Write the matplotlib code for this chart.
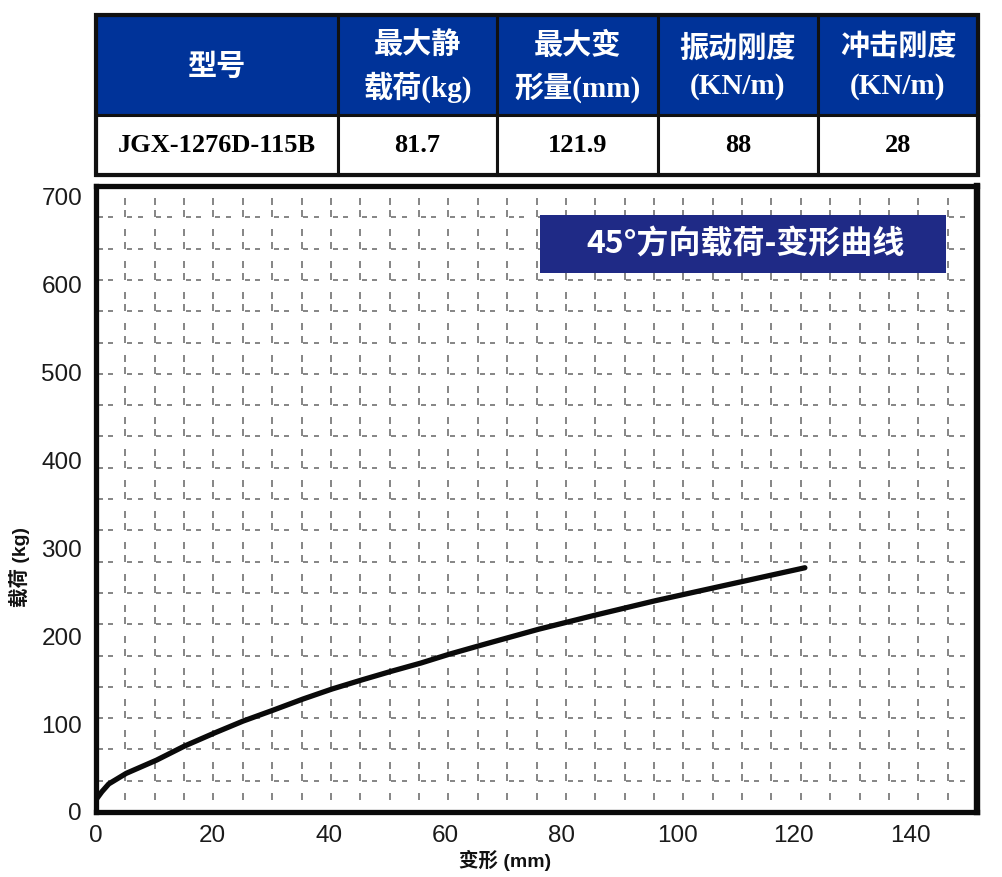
import matplotlib
matplotlib.use("Agg")
import matplotlib.pyplot as plt
from matplotlib.patches import Rectangle
from matplotlib.collections import LineCollection

# ---- data ----
table_headers = ["型号", "最大静\n载荷(kg)", "最大变\n形量(mm)", "振动刚度\n(KN/m)", "冲击刚度\n(KN/m)"]
table_values = ["JGX-1276D-115B", "81.7", "121.9", "88", "28"]

deflection_mm = [0, 1.0, 2.2, 5.2, 10.4, 15.2, 20.4, 25.3, 30.5, 35.6, 40.6, 45.8,
                 50.7, 55.9, 60.7, 66.3, 76.1, 85.8, 96.2, 106.6, 116.4, 121.9]
load_kg = [14, 23, 32, 44, 59, 75, 90, 103.5, 116, 128.6, 140, 150.5,
           160, 169.6, 179.5, 190, 208, 224, 240.5, 255.7, 270, 278]

x_ticks = [0, 20, 40, 60, 80, 100, 120, 140]
y_ticks = [0, 100, 200, 300, 400, 500, 600, 700]

chart_title = "45°方向载荷-变形曲线"
x_label = "变形 (mm)"
y_label = "载荷 (kg)"

# ---- figure ----
W, H = 1003, 877
fig = plt.figure(figsize=(W / 100, H / 100), dpi=100, facecolor="white")


def fx(x):
    return x / W


def fy(y):
    return 1 - y / H


serif_cjk = ["Liberation Serif", "Noto Sans CJK SC"]
sans_cjk = ["Liberation Sans", "Noto Sans CJK SC"]

# ---- spec table ----
col_edges = [96, 338, 497, 658, 818, 978]
tab_top, tab_mid, tab_bot = 15, 115, 175
header_blue = "#003399"

for i in range(5):
    x0, x1 = col_edges[i], col_edges[i + 1]
    fig.patches.append(Rectangle((fx(x0), fy(tab_mid)), fx(x1) - fx(x0), fy(tab_top) - fy(tab_mid),
                                 transform=fig.transFigure, facecolor=header_blue,
                                 edgecolor="#111111", linewidth=2.2, zorder=1))
    fig.patches.append(Rectangle((fx(x0), fy(tab_bot)), fx(x1) - fx(x0), fy(tab_mid) - fy(tab_bot),
                                 transform=fig.transFigure, facecolor="white",
                                 edgecolor="#111111", linewidth=2.2, zorder=1))
    cx = fx((x0 + x1) / 2)
    fig.text(cx, fy((tab_top + tab_mid) / 2 + 2), table_headers[i], color="white",
             family=serif_cjk, fontweight="bold", fontsize=21,
             ha="center", va="center", linespacing=1.5, zorder=3)
    fig.text(cx, fy((tab_mid + tab_bot) / 2 + 1), table_values[i], color="black",
             family=serif_cjk, fontweight="bold", fontsize=19,
             ha="center", va="center", zorder=3)

fig.patches.append(Rectangle((fx(96), fy(tab_bot)), fx(978) - fx(96), fy(tab_top) - fy(tab_bot),
                             transform=fig.transFigure, facecolor="none",
                             edgecolor="#111111", linewidth=3.0, zorder=2))

# ---- chart ----
ax_l, ax_r, ax_t, ax_b = 96, 977, 186, 812
ax = fig.add_axes([fx(ax_l), fy(ax_b), fx(ax_r) - fx(ax_l), fy(ax_t) - fy(ax_b)])
ax.set_xlim(0, 151.5)
ax.set_ylim(0, 712.5)
ax.set_facecolor("white")

for name, s in ax.spines.items():
    s.set_linewidth(4.6 if name == "right" else 3.8)
    s.set_color("#0a0a0a")

# dashed background grid: 30 columns x 20 rows, drawn as short dashes
aw, ah = ax_r - ax_l, ax_b - ax_t
segs = []
dh, dv = 5.0 / aw, 7.0 / ah
for j in range(1, 20):
    y = j / 20
    for i in range(30):
        xa = i / 30
        xm = (i + 0.5) / 30
        segs.append([(xa + 0.002, y), (xa + 0.002 + dh, y)])
        segs.append([(xm - dh / 2, y), (xm + dh / 2, y)])
for i in range(1, 30):
    x = i / 30
    for j in range(20):
        ya = j / 20
        ym = (j + 0.5) / 20
        if j > 0:
            segs.append([(x, ya), (x, ya + dv)])
        segs.append([(x, ym - dv / 2), (x, ym + dv / 2)])
grid = LineCollection(segs, colors="#858585", linewidths=1.4, transform=ax.transAxes, zorder=1)
ax.add_collection(grid)

ax.plot(deflection_mm, load_kg, color="#0a0a0a", linewidth=3.8,
        solid_capstyle="round", solid_joinstyle="round", zorder=3)

ax.set_xticks(x_ticks)
ax.set_yticks(y_ticks)
ax.set_xticklabels([str(v) for v in x_ticks])
ax.set_yticklabels([str(v) for v in y_ticks])
ax.tick_params(length=0, labelsize=17.5, labelcolor="#1a1a1a")
ax.tick_params(axis="y", pad=10)
ax.tick_params(axis="x", pad=9)
for lbl in ax.get_xticklabels() + ax.get_yticklabels():
    lbl.set_family("Liberation Sans")

# title banner
fig.patches.append(Rectangle((fx(540), fy(273)), fx(946) - fx(540), fy(215) - fy(273),
                             transform=fig.transFigure, facecolor="#1f2a86",
                             edgecolor="none", zorder=5))
fig.text(fx(746), fy(245), chart_title, color="white", family=["Noto Sans CJK SC", "DejaVu Sans"],
         fontweight="bold", fontsize=23, ha="center", va="center", zorder=6)

# axis labels
fig.text(fx(505), fy(860), x_label, family=sans_cjk, fontweight="bold", fontsize=14,
         color="#111111", ha="center", va="center")
fig.text(fx(19), fy(567), y_label, family=sans_cjk, fontweight="bold", fontsize=14,
         color="#111111", ha="center", va="center", rotation=90)

fig.savefig("out.png", dpi=100, facecolor="white")
